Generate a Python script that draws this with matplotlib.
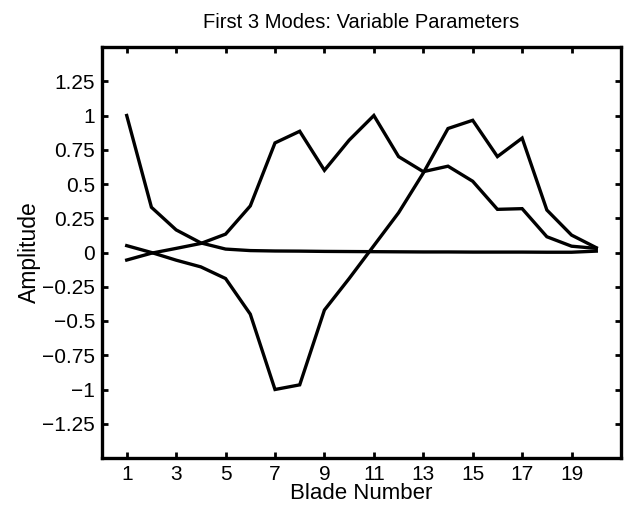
import matplotlib
matplotlib.use("Agg")
import matplotlib.pyplot as plt

blade = list(range(1, 21))
mode1 = [1.0, 0.33, 0.165, 0.07, 0.025, 0.014, 0.011, 0.01, 0.008, 0.007,
         0.006, 0.005, 0.004, 0.004, 0.003, 0.003, 0.003, 0.002, 0.002, 0.01]
mode2 = [-0.055, -0.005, 0.03, 0.066, 0.134, 0.34, 0.80, 0.885, 0.60, 0.82,
         1.0, 0.70, 0.59, 0.63, 0.52, 0.315, 0.32, 0.115, 0.046, 0.03]
mode3 = [0.05, 0.0, -0.056, -0.105, -0.19, -0.45, -1.0, -0.966, -0.42, -0.19,
         0.05, 0.29, 0.58, 0.905, 0.965, 0.70, 0.835, 0.31, 0.127, 0.035]

xticks = [1, 3, 5, 7, 9, 11, 13, 15, 17, 19]
yticks = [-1.25, -1, -0.75, -0.5, -0.25, 0, 0.25, 0.5, 0.75, 1, 1.25]
ytick_labels = ["\u22121.25", "\u22121", "\u22120.75", "\u22120.5", "\u22120.25",
                "0", "0.25", "0.5", "0.75", "1", "1.25"]

plt.rcParams['font.family'] = ['Liberation Sans', 'DejaVu Sans']

fig = plt.figure(figsize=(6.24, 5.08), dpi=100)
ax = fig.add_axes([102/624, 50/508, (621-102)/624, (458-47)/508])

for series in (mode1, mode2, mode3):
    ax.plot(blade, series, color='black', linewidth=2.4, solid_joinstyle='miter')

ax.set_xlim(0, 21)
ax.set_ylim(-1.5, 1.5)
ax.set_xticks(xticks)
ax.set_xticklabels([str(t) for t in xticks])
ax.set_yticks(yticks)
ax.set_yticklabels(ytick_labels)
ax.tick_params(direction='in', length=4, width=2, top=True, right=True,
               labelsize=15, pad=5)
for s in ax.spines.values():
    s.set_linewidth(2.4)

ax.set_title("First 3 Modes: Variable Parameters", fontsize=14.5, pad=14)
ax.set_xlabel("Blade Number", fontsize=16, labelpad=-1)
ax.set_ylabel("Amplitude", fontsize=16.5, labelpad=1)

fig.savefig("out.png", dpi=100)
